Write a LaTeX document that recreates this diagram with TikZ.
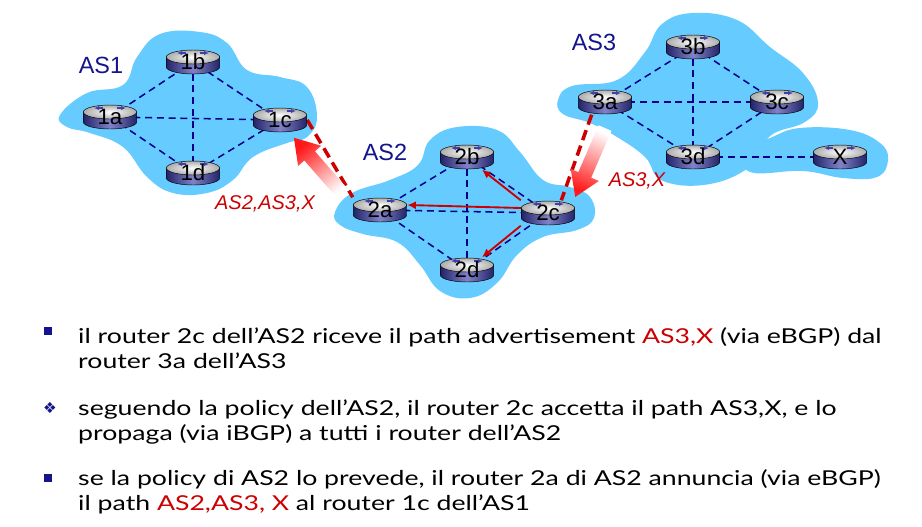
\documentclass[tikz,border=0pt]{standalone}
\usepackage{fontspec}
\usepackage{tikz}
\usetikzlibrary{arrows.meta,positioning,calc}
\setmainfont{Liberation Sans}
\newfontfamily\bodyfont[FakeStretch=1.3]{Lato}
\newfontfamily\symfont{DejaVu Sans}

\definecolor{cloudblue}{RGB}{102,204,255}
\definecolor{asblue}{RGB}{20,20,140}
\definecolor{linkblue}{RGB}{0,0,140}
\definecolor{bgpred}{RGB}{204,0,0}
\definecolor{fadered}{RGB}{255,25,25}
\definecolor{rtdark}{RGB}{35,35,105}
\definecolor{rtlight}{RGB}{130,130,200}
\definecolor{txtred}{RGB}{204,0,0}

\pgfdeclarelayer{clouds}
\pgfdeclarelayer{links}
\pgfsetlayers{clouds,links,main}

% fading advertisement arrow: tail, head, shading angle
\newcommand{\fadearrow}[3]{%
  \coordinate (fbase) at ($(#2)!0.72cm!(#1)$);
  \shade[top color=fadered,bottom color=white,shading angle=#3]
    ($(#1)!0.21cm!90:(#2)$) -- ($(fbase)!0.21cm!90:(#2)$) -- ($(fbase)!0.46cm!90:(#2)$)
    -- (#2) -- ($(fbase)!0.46cm!-90:(#2)$) -- ($(fbase)!0.21cm!-90:(#2)$)
    -- ($(#1)!0.21cm!-90:(#2)$) -- cycle;}

\tikzset{
  pics/routericon/.style={code={
    \shade[left color=rtdark,right color=rtdark,middle color=rtlight,draw=black,line width=0.4pt]
      (-0.8cm,0.15cm) -- (-0.8cm,-0.15cm)
      arc[start angle=180,end angle=360,x radius=0.8cm,y radius=0.21cm]
      -- (0.8cm,0.15cm) -- cycle;
    \shade[inner color=white,outer color=gray!65,draw=black,line width=0.4pt]
      (0,0.15cm) ellipse[x radius=0.8cm,y radius=0.21cm];
    \fill[linkblue!75] (-0.46cm,0.27cm) -- (-0.33cm,0.33cm) -- (-0.33cm,0.21cm) -- cycle;
    \fill[linkblue!75] (0.46cm,0.27cm) -- (0.33cm,0.33cm) -- (0.33cm,0.21cm) -- cycle;
    \draw[linkblue!75,line width=1pt] (-0.34cm,0.27cm) -- (-0.2cm,0.27cm)
      (0.34cm,0.27cm) -- (0.2cm,0.27cm);
  }}
}

\begin{document}
\begin{tikzpicture}[x=0.03cm,y=-0.03cm,
router/.style={minimum width=1.62cm,minimum height=0.75cm,inner sep=0pt,
  font=\fontsize{19}{19}\selectfont},
aslabel/.style={text=asblue,font=\fontsize{20}{20}\selectfont},
advlabel/.style={text=bgpred,font=\itshape\fontsize{17}{17}\selectfont},
ibgp/.style={linkblue,line width=1.3pt,dash pattern=on 6pt off 4pt},
ebgp/.style={bgpred,line width=3pt,dash pattern=on 9pt off 5pt},
adv/.style={-{Latex[length=2.6mm,width=2.4mm]},bgpred,line width=1.6pt},
txt/.style={font=\bodyfont\fontsize{17.5}{21.3}\selectfont,align=left,inner sep=0pt,anchor=base west},
bull/.style={fill=asblue,minimum size=0.22cm,inner sep=0pt}
]
\begin{pgfonlayer}{clouds}
\fill[white] (0,0) rectangle (922,526);
% AS1
\fill[cloudblue] plot[smooth cycle,tension=0.7] coordinates {(60,115) (87,93) (123,85)
  (137,57) (160,34) (200,32) (227,43) (247,70) (280,77) (307,87) (317,117) (307,137)
  (287,143) (253,157) (233,180) (207,193) (173,193) (147,177) (123,147) (90,133) (67,127)};
% AS2
\fill[cloudblue] plot[smooth cycle,tension=0.7] coordinates {(335,212) (352,193) (390,180)
  (418,165) (430,140) (457,127) (497,130) (520,152) (543,180) (570,187) (590,197) (594,218)
  (577,230) (543,237) (517,255) (497,283) (470,298) (440,291) (420,265) (397,242) (363,234)
  (340,225)};
% AS3
\fill[cloudblue] plot[smooth cycle,tension=0.7] coordinates {(558,100) (572,86) (617,80)
  (645,52) (662,24) (693,13) (737,20) (770,47) (803,73) (818,103) (805,122) (770,136)
  (752,165) (710,184) (663,181) (645,157) (617,137) (590,123) (563,114)};
\fill[cloudblue] plot[smooth cycle,tension=0.7] coordinates {(745,150) (770,138) (800,128)
  (850,130) (880,143) (888,160) (877,177) (843,178) (803,171) (750,172)};
\end{pgfonlayer}

% routers
\foreach \n/\px/\py in {1a/110/117,1b/193/62,1c/280/120,1d/193/173,
    2a/380/210,2b/467/157,2c/548/213,2d/467/270,
    3a/605/102,3b/693/47,3c/777/102,3d/693/157,x/840/157}
  \pic at (\px,\py) {routericon};
\node[router] (1a) at (110,117) {1a};
\node[router] (1b) at (193,62) {1b};
\node[router] (1c) at (280,120) {1c};
\node[router] (1d) at (193,173) {1d};
\node[router] (2a) at (380,210) {2a};
\node[router] (2b) at (467,157) {2b};
\node[router] (2c) at (548,213) {2c};
\node[router] (2d) at (467,270) {2d};
\node[router] (3a) at (605,102) {3a};
\node[router] (3b) at (693,47) {3b};
\node[router] (3c) at (777,102) {3c};
\node[router] (3d) at (693,157) {3d};
\node[router] (x) at (840,157) {X};

\node[aslabel] (as1) at (101,65) {AS1};
\node[aslabel] (as2) at (385,152) {AS2};
\node[aslabel] (as3) at (594,42) {AS3};

\begin{pgfonlayer}{links}
\foreach \p in {1,2,3} {
  \draw[ibgp] (\p a.center) -- (\p b.center) -- (\p c.center) -- (\p d.center) -- cycle;
  \draw[ibgp] (\p a.center) -- (\p c.center);
  \draw[ibgp] (\p b.center) -- (\p d.center);
}
\draw[ibgp] (3d.center) -- (x.center);
\draw[ebgp] (1c.east) -- (2a.north west);
\draw[ebgp] ([xshift=-0.4cm]3a.south) -- ([xshift=0.4cm]2c.north);
\end{pgfonlayer}

% iBGP propagation inside AS2
\draw[adv] ([yshift=0.15cm]2c.west) -- ([yshift=0.15cm]2a.east);
\draw[adv] (2c.north west) -- ([xshift=0.45cm]2b.south);
\draw[adv] (2c.south west) -- ([xshift=0.45cm]2d.north);

% advertisements
\coordinate (t1) at ([shift={(-0.3cm,0.1cm)}]2a.north west);
\coordinate (h1) at ([shift={(-0.4cm,-0.15cm)}]1c.south east);
\fadearrow{t1}{h1}{40}
\coordinate (t2) at ([yshift=-0.4cm]3a.south);
\coordinate (h2) at ([yshift=0.1cm]2c.north east);
\fadearrow{t2}{h2}{157}
\node[advlabel] (l1) at (265,204) {AS2,AS3,X};
\node[advlabel] (l2) at (637,181) {AS3,X};

% text
\node[bull] (b1) at (48,331) {};
\node[txt] (p1) at (78,368) {il router 2c dell’AS2 riceve il path advertisement {\color{txtred}AS3,X} (via eBGP) dal\\
  router 3a dell’AS3};
\node[text=asblue,font=\symfont\fontsize{13}{13}\selectfont] (b2) at (50,408) {❖};
\node[txt] (p2) at (78,440) {seguendo la policy dell’AS2, il router 2c accetta il path AS3,X, e lo\\
  propaga (via iBGP) a tutti i router dell’AS2};
\node[bull] (b3) at (48,478) {};
\node[txt] (p3) at (78,510) {se la policy di AS2 lo prevede, il router 2a di AS2 annuncia (via eBGP)\\
  il path {\color{txtred}AS2,AS3, X} al router 1c dell’AS1};
\end{tikzpicture}
\end{document}
